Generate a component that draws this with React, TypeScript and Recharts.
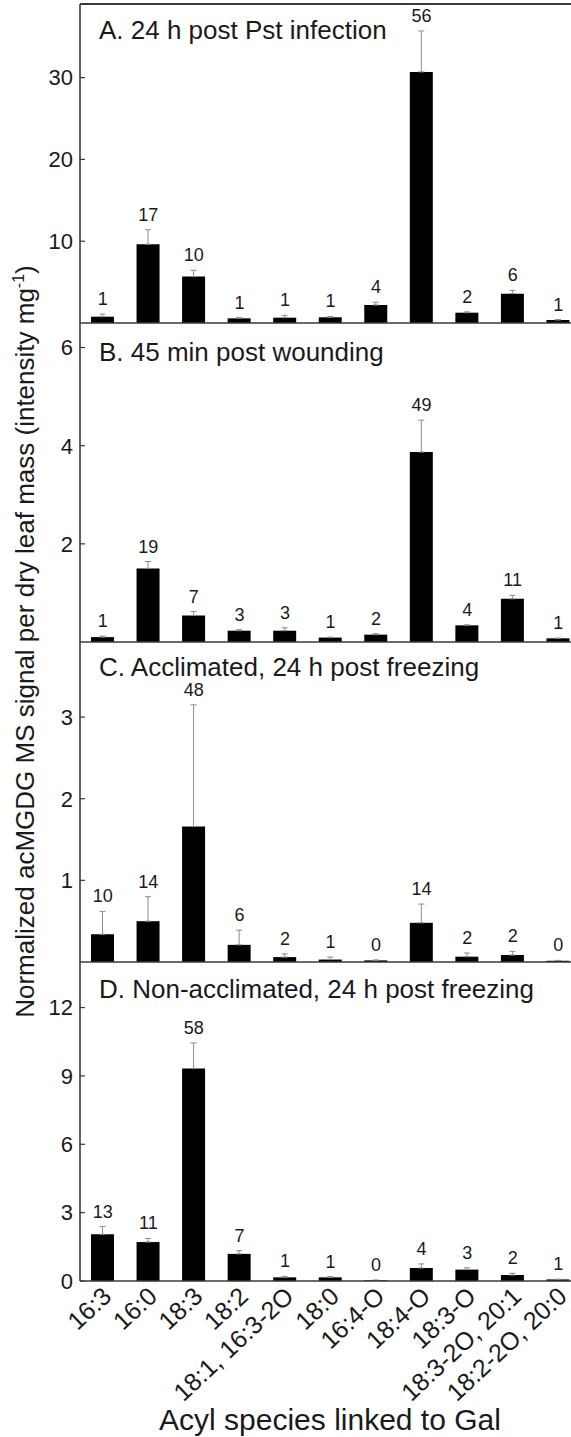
import React from "react";
import {
  ComposedChart,
  Bar,
  Line,
  XAxis,
  YAxis,
  ErrorBar,
  LabelList,
  ReferenceLine,
} from "recharts";

const categories = [
  "16:3",
  "16:0",
  "18:3",
  "18:2",
  "18:1, 16:3-2O",
  "18:0",
  "16:4-O",
  "18:4-O",
  "18:3-O",
  "18:3-2O, 20:1",
  "18:2-2O, 20:0",
];

const titles = [
  "A. 24 h post Pst infection",
  "B. 45 min post wounding",
  "C. Acclimated, 24 h post freezing",
  "D. Non-acclimated, 24 h post freezing",
];

// Panel A
const valuesA = [0.77, 9.63, 5.67, 0.57, 0.65, 0.7, 2.2, 30.7, 1.26, 3.59, 0.37];
const errA = [0.33, 1.77, 0.78, 0.1, 0.29, 0.1, 0.33, 5.0, 0.1, 0.41, 0.05];
const pctA = [1, 17, 10, 1, 1, 1, 4, 56, 2, 6, 1];
const majorA = [10, 20, 30];
const minorA = [5, 15, 25, 35];
const maxA = 39;

// Panel B
const valuesB = [0.1, 1.5, 0.54, 0.23, 0.23, 0.09, 0.15, 3.87, 0.34, 0.88, 0.075];
const errB = [0.02, 0.14, 0.08, 0.02, 0.06, 0.01, 0.02, 0.65, 0.01, 0.07, 0.005];
const pctB = [1, 19, 7, 3, 3, 1, 2, 49, 4, 11, 1];
const majorB = [2, 4, 6];
const minorB = [1, 3, 5];
const maxB = 6.5;

// Panel C
const valuesC = [0.34, 0.5, 1.66, 0.21, 0.06, 0.03, 0.02, 0.48, 0.065, 0.085, 0.015];
const errC = [0.28, 0.3, 1.49, 0.18, 0.04, 0.03, 0.005, 0.23, 0.045, 0.045, 0.005];
const pctC = [10, 14, 48, 6, 2, 1, 0, 14, 2, 2, 0];
const majorC = [1, 2, 3];
const minorC = [0.5, 1.5, 2.5, 3.5];
const maxC = 3.92;

// Panel D
const valuesD = [2.05, 1.71, 9.33, 1.19, 0.16, 0.16, 0.03, 0.57, 0.5, 0.26, 0.07];
const errD = [0.34, 0.16, 1.12, 0.14, 0.04, 0.03, 0.01, 0.18, 0.08, 0.08, 0.01];
const pctD = [13, 11, 58, 7, 1, 1, 0, 4, 3, 2, 1];
const majorD = [0, 3, 6, 9, 12];
const minorD = [1.5, 4.5, 7.5, 10.5, 13.5];
const maxD = 14;

const FONT = "'Liberation Sans', Arial, Helvetica, sans-serif";
const AXIS = "#3a3a3a";
const TEXT = "#1a1a1a";

const centers = categories.map((_, i) => i + 1);
const boundaries = categories.slice(1).map((_, i) => i + 1.5);

function buildRows(values: number[], errs: number[], pcts: number[]) {
  return values.map((v, i) => ({
    x: i + 1,
    value: v,
    err: [0, errs[i]],
    top: v + errs[i],
    pct: pcts[i],
  }));
}

const panels = [
  { rows: buildRows(valuesA, errA, pctA), major: majorA, minor: minorA, max: maxA, plotTop: 4, plotH: 319, border: true, labels: false, title: titles[0], titleY: 39 },
  { rows: buildRows(valuesB, errB, pctB), major: majorB, minor: minorB, max: maxB, plotTop: 323, plotH: 319, border: false, labels: false, title: titles[1], titleY: 361 },
  { rows: buildRows(valuesC, errC, pctC), major: majorC, minor: minorC, max: maxC, plotTop: 642, plotH: 320, border: false, labels: false, title: titles[2], titleY: 676 },
  { rows: buildRows(valuesD, errD, pctD), major: majorD, minor: minorD, max: maxD, plotTop: 962, plotH: 319, border: false, labels: true, title: titles[3], titleY: 998 },
];

const PctLabel = (p: any) => {
  const vb = p.viewBox || {};
  const x = p.x ?? vb.x;
  const y = p.y ?? vb.y;
  if (x == null || y == null) return null;
  return (
    <text x={x} y={y - 9} textAnchor="middle" fontSize={18} fill={TEXT} fontFamily={FONT}>
      {p.value}
    </text>
  );
};

const CatTick = (p: any) => {
  const { x, y, payload } = p;
  const label = categories[payload.value - 1];
  return (
    <g transform={`translate(${x - 2},${y})`}>
      <text
        textAnchor="end"
        transform="rotate(-43)"
        dy="0.72em"
        fontSize={25}
        fill={TEXT}
        fontFamily={FONT}
      >
        {label}
      </text>
    </g>
  );
};

const TOPM = 4;
const CHART_W = 581;

function Panel({ cfg }: { cfg: any }) {
  const xH = cfg.labels ? 150 : 6;
  return (
    <div style={{ position: "absolute", left: 0, top: cfg.plotTop - TOPM }}>
      <ComposedChart
        width={CHART_W}
        height={TOPM + cfg.plotH + xH}
        data={cfg.rows}
        margin={{ top: TOPM, right: 0, left: 0, bottom: 0 }}
      >
        <XAxis
          xAxisId="x"
          type="number"
          dataKey="x"
          domain={[0.5, 11.5]}
          allowDataOverflow
          ticks={centers}
          interval={0}
          height={xH}
          axisLine={{ stroke: AXIS, strokeWidth: 1.6 }}
          tickLine={false}
          tickSize={2}
          tickMargin={2}
          tick={cfg.labels ? <CatTick /> : false}
        />
        <XAxis
          xAxisId="xb"
          type="number"
          dataKey="x"
          domain={[0.5, 11.5]}
          allowDataOverflow
          ticks={boundaries}
          interval={0}
          mirror
          height={4}
          axisLine={false}
          tickSize={4}
          tickLine={{ stroke: AXIS, strokeWidth: 1.2 }}
          tick={false}
        />
        <YAxis
          yAxisId="y"
          type="number"
          domain={[0, cfg.max]}
          allowDataOverflow
          ticks={cfg.major}
          interval={0}
          width={80}
          axisLine={{ stroke: AXIS, strokeWidth: 1.6 }}
          tickSize={-5}
          tickMargin={12}
          tickLine={{ stroke: AXIS, strokeWidth: 1.2 }}
          tick={{ fontSize: 22, fill: TEXT, fontFamily: FONT }}
        />
        <YAxis
          yAxisId="ym"
          type="number"
          domain={[0, cfg.max]}
          allowDataOverflow
          ticks={cfg.minor}
          interval={0}
          mirror
          width={4}
          axisLine={false}
          tickSize={3}
          tickLine={{ stroke: AXIS, strokeWidth: 1.2 }}
          tick={false}
        />
        {cfg.border && (
          <ReferenceLine
            xAxisId="x"
            yAxisId="y"
            y={cfg.max}
            stroke={AXIS}
            strokeWidth={2}
          />
        )}
        <Bar
          xAxisId="x"
          yAxisId="y"
          dataKey="value"
          fill="#000"
          barSize={23}
          isAnimationActive={false}
        >
          <ErrorBar dataKey="err" direction="y" width={3} stroke="#8c8c8c" strokeWidth={1} />
        </Bar>
        <Line
          xAxisId="x"
          yAxisId="y"
          dataKey="top"
          stroke="none"
          dot={false}
          activeDot={false}
          isAnimationActive={false}
        >
          <LabelList dataKey="pct" content={<PctLabel />} />
        </Line>
      </ComposedChart>
    </div>
  );
}

export default function App() {
  return (
    <div
      style={{
        position: "absolute",
        left: 0,
        top: 0,
        width: 571,
        height: 1437,
        overflow: "hidden",
        background: "#fff",
        fontFamily: FONT,
      }}
    >
      {panels.map((cfg, i) => (
        <Panel key={i} cfg={cfg} />
      ))}
      <svg
        width={571}
        height={1437}
        style={{ position: "absolute", left: 0, top: 0, pointerEvents: "none" }}
      >
        {panels.map((cfg, i) => (
          <text key={i} x={99} y={cfg.titleY} fontSize={26} fill={TEXT} fontFamily={FONT}>
            {cfg.title}
          </text>
        ))}
        <text
          x={33.5}
          y={641.5}
          transform="rotate(-90, 33.5, 641.5)"
          textAnchor="middle"
          fontSize={26}
          fill={TEXT}
          fontFamily={FONT}
        >
          Normalized acMGDG MS signal per dry leaf mass (intensity mg
          <tspan fontSize={16} dy={-10}>-1</tspan>
          <tspan dy={10}>)</tspan>
        </text>
        <text x={330} y={1430} textAnchor="middle" fontSize={30} fill={TEXT} fontFamily={FONT}>
          Acyl species linked to Gal
        </text>
      </svg>
    </div>
  );
}
